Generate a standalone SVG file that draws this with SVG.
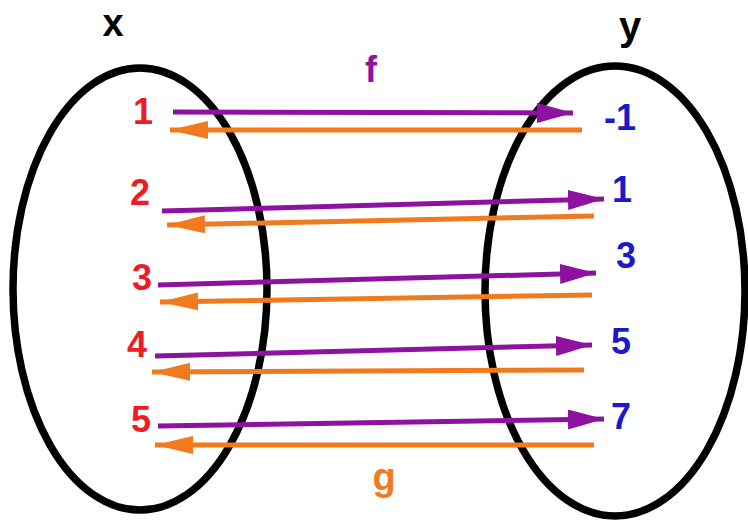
<svg xmlns="http://www.w3.org/2000/svg" width="748" height="525" viewBox="0 0 748 525">
<defs>
<marker id="hp" viewBox="0 0 36 20" refX="36" refY="10" markerWidth="36" markerHeight="20" markerUnits="userSpaceOnUse" orient="auto"><path d="M0,0 L36,10 L0,20 Z" fill="#8E12A0"/></marker>
<marker id="ho" viewBox="0 0 38 18" refX="38" refY="9" markerWidth="38" markerHeight="18" markerUnits="userSpaceOnUse" orient="auto"><path d="M0,0 L38,9 L0,18 Z" fill="#F07A1E"/></marker>
</defs>
<style>
.set{fill:none;stroke:#000;stroke-width:7.5}
.t{font-family:"Liberation Sans",Arial,sans-serif;font-weight:bold;text-anchor:middle}
.lx{fill:#EE1C24;font-size:36px}
.ly{fill:#1A1ACC;font-size:36px}
.f{stroke:#8E12A0;stroke-width:5;fill:none;marker-end:url(#hp)}
.g{stroke:#F07A1E;stroke-width:5;fill:none;marker-end:url(#ho)}
</style>
<rect width="748" height="525" fill="#fff"/>
<g id="setX">
<ellipse class="set" cx="140" cy="289" rx="127" ry="221"/>
<text class="t" x="113" y="36" font-size="38" fill="#000">x</text>
<text class="t lx" x="143" y="124">1</text>
<text class="t lx" x="140" y="205">2</text>
<text class="t lx" x="142" y="290">3</text>
<text class="t lx" x="137" y="357">4</text>
<text class="t lx" x="141" y="432">5</text>
</g>
<g id="setY">
<ellipse class="set" cx="615" cy="291" rx="130" ry="225"/>
<text class="t" x="630" y="40" font-size="40" fill="#000">y</text>
<text class="t ly" x="620" y="130">-1</text>
<text class="t ly" x="622" y="202">1</text>
<text class="t ly" x="626" y="268">3</text>
<text class="t ly" x="621" y="354">5</text>
<text class="t ly" x="621" y="429">7</text>
</g>
<g id="connectors">
<line class="f" x1="173" y1="112" x2="573" y2="113"/>
<line class="g" x1="582" y1="130" x2="170" y2="130"/>
<line class="f" x1="162" y1="211" x2="604" y2="199"/>
<line class="g" x1="594" y1="216" x2="167" y2="225"/>
<line class="f" x1="158" y1="285" x2="596" y2="273"/>
<line class="g" x1="592" y1="295" x2="160" y2="302"/>
<line class="f" x1="155" y1="356" x2="592" y2="345"/>
<line class="g" x1="584" y1="370" x2="152" y2="372"/>
<line class="f" x1="158" y1="426" x2="604" y2="419"/>
<line class="g" x1="594" y1="445" x2="155" y2="445"/>
</g>
<g id="labels">
<text class="t" x="371" y="82" font-size="36" fill="#8E12A0">f</text>
<text class="t" x="384" y="490" font-size="38" fill="#F07A1E">g</text>
</g>
</svg>
